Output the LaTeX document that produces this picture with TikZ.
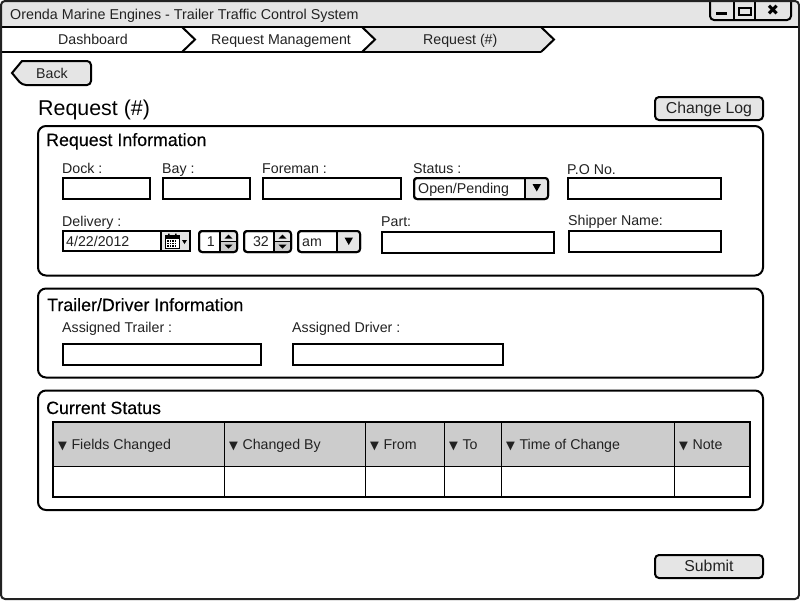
\documentclass[tikz,border=0pt]{standalone}
\usepackage{fontspec}
\setmainfont{Liberation Sans}
\usepackage{xcolor}
\usetikzlibrary{positioning}
\definecolor{panegray}{HTML}{E5E5E5}
\definecolor{headgray}{HTML}{CCCCCC}
\definecolor{inkgray}{HTML}{222222}
\newfontfamily\headfont[FakeBold=0.25]{Liberation Sans}
\newcommand{\tritip}{{\fontspec{DejaVu Sans}\fontsize{11.5}{12}\selectfont ▼}}

\begin{document}
\begin{tikzpicture}[
    x=1pt, y=-1pt,
    label/.style={anchor=base west, inner sep=0pt, text=inkgray, font=\fontsize{14.2}{16}\selectfont},
    heading/.style={anchor=base west, inner sep=0pt, text=black, font=\headfont\fontsize{17.8}{20}\selectfont},
    field/.style={draw=black, line width=2pt, fill=white, rectangle, anchor=north west, inner sep=0pt, outer sep=0pt, minimum height=21pt},
    combo/.style={field, rounded corners=3pt},
    panel/.style={draw=black, line width=2pt, rounded corners=8pt, anchor=north west, inner sep=0pt, outer sep=0pt, minimum width=725pt},
    button/.style={draw=black, line width=2pt, fill=panegray, rounded corners=4pt, anchor=north west, inner sep=0pt, outer sep=0pt, minimum width=108pt, minimum height=23pt, text height=12pt, text depth=2pt, text=inkgray, font=\fontsize{15.8}{18}\selectfont},
    cell/.style={draw=black, line width=1pt, anchor=north west, inner sep=0pt, outer sep=0pt},
    headcell/.style={cell, fill=headgray, minimum height=44pt},
    bodycell/.style={cell, fill=white, minimum height=31pt},
    trail/.style={draw=black, line width=2pt, line join=miter},
    tiptri/.style={fill=black, draw=none}
]
    \useasboundingbox (0,0) rectangle (800,600);
    \fill[white] (0,0) rectangle (800,600);

    % title bar
    \fill[panegray, rounded corners=4pt] (1,1) -- (799,1) -- (799,27) -- (1,27) -- cycle;
    \node[label, font=\fontsize{14.3}{16}\selectfont] (title) at (10,19) {Orenda Marine Engines - Trailer Traffic Control System};

    % window buttons
    \draw[line width=2pt, fill=panegray, rounded corners=4pt] (710,0) -- (710,20) -- (791,20) -- (791,0);
    \draw[line width=1.5pt] (734,0) -- (734,20) (755,0) -- (755,20);
    \fill (716,12) rectangle (727,15);
    \draw[line width=1.5pt] (739,8) rectangle (751,15);
    \node[anchor=center, inner sep=0pt, font=\bfseries\fontsize{15}{16}\selectfont] (closemark) at (773,10.5) {\fontspec{DejaVu Sans}✖};

    % breadcrumb
    \fill[panegray] (362,27) -- (541,27) -- (554,39.5) -- (541,52) -- (375,52) -- (362,52) -- (375,39.5) -- cycle;
    \draw[trail] (182,27) -- (195,39.5) -- (182,52);
    \draw[trail] (362,27) -- (375,39.5) -- (362,52);
    \draw[trail] (541,27) -- (554,39.5) -- (541,52);
    \draw[line width=2pt] (1,27) -- (799,27);
    \draw[line width=2pt] (1,52) -- (541,52);
    \node[label] (dash) at (58,44) {Dashboard};
    \node[label] (reqmgmt) at (211,44) {Request Management};
    \node[label] (reqtab) at (423,44) {Request (\#)};

    % back button
    \draw[line width=2pt, fill=panegray, rounded corners=4pt] (22,61) -- (91,61) -- (91,85) -- (22,85) [sharp corners] -- (12,73) -- cycle;
    \node[label] (back) at (36,78) {Back};

    % page heading
    \node[heading, font=\fontsize{21.4}{24}\selectfont] (page) at (38,115) {Request (\#)};
    \node[button] (changelog) at (655,97) {Change Log};

    % request information
    \node[panel, minimum height=149.5pt] (reqpanel) at (38,126) {};
    \node[heading] (reqhead) at (46,146) {Request Information};

    \node[label] (docklab) at (62,173) {Dock :};
    \node[field, minimum width=87pt] (dock) at (63,178) {};
    \node[label] (baylab) at (162,173) {Bay :};
    \node[field, minimum width=87pt] (bay) at (163,178) {};
    \node[label] (foremanlab) at (262,173) {Foreman :};
    \node[field, minimum width=138pt] (foreman) at (263,178) {};
    \node[label] (statuslab) at (413,173) {Status :};
    \node[combo, minimum width=134pt] (status) at (414,178) {};
    \fill[panegray, rounded corners=3pt] (525,178) rectangle (548,199);
    \draw[line width=2pt, rounded corners=3pt] (414,178) rectangle (548,199);
    \draw[line width=2pt] (525,178) -- (525,199);
    \node[label, anchor=base west] (statusval) at (418,193) {Open/Pending};
    \fill[tiptri] (532.5,184) -- (541,184) -- (536.75,191.5) -- cycle;
    \node[label] (polab) at (567,174) {P.O No.};
    \node[field, minimum width=153pt] (pono) at (568,178) {};

    \node[label] (deliverylab) at (62,226) {Delivery :};
    \node[field, minimum width=127pt, minimum height=20pt] (date) at (63,231) {};
    \fill[panegray] (161,231) rectangle (190,251);
    \draw[line width=2pt] (63,231) rectangle (190,251);
    \draw[line width=2pt] (161,231) -- (161,251);
    \node[label] (dateval) at (66,246) {4/22/2012};
    \draw[line width=.8pt, fill=white] (165,235) rectangle (179,248);
    \fill (165,235) rectangle (179,238.5);
    \fill (168,233.5) rectangle (169.5,236) (175,233.5) rectangle (176.5,236);
    \foreach \rowy in {240,242.5,245}
        \foreach \colx in {167,169.5,172,174.5}
            \fill (\colx,\rowy) rectangle +(1.5,1.5);
    \fill[tiptri] (182,240) -- (187,240) -- (184.5,244) -- cycle;

    % spinners
    \foreach \boxname/\xa/\xb/\xc/\val in {hour/199/220/237/1, minute/244/274/291/32}{
        \node[combo, minimum width=\xc pt-\xa pt] (\boxname) at (\xa,231) {};
        \fill[panegray] (\xb,231) rectangle (\xc,241.5);
        \fill[headgray] (\xb,241.5) rectangle (\xc,252);
        \draw[line width=2pt, rounded corners=3pt] (\xa,231) rectangle (\xc,252);
        \draw[line width=2pt] (\xb,231) -- (\xb,252);
        \draw[line width=1pt] (\xb,241.5) -- (\xc,241.5);
        \fill[tiptri] ({\xb+4.5},238.5) -- ({\xb+12.5},238.5) -- ({\xb+8.5},234.5) -- cycle;
        \fill[tiptri] ({\xb+4.5},244.5) -- ({\xb+12.5},244.5) -- ({\xb+8.5},248.5) -- cycle;
        \node[label, anchor=base east] (\boxname val) at ({\xb-5},246) {\val};
    }

    \node[combo, minimum width=62pt] (ampm) at (298,231) {};
    \fill[panegray, rounded corners=3pt] (337,231) rectangle (360,252);
    \draw[line width=2pt, rounded corners=3pt] (298,231) rectangle (360,252);
    \draw[line width=2pt] (337,231) -- (337,252);
    \node[label] (ampmval) at (302,246) {am};
    \fill[tiptri] (344.5,237.5) -- (353,237.5) -- (348.75,245) -- cycle;

    \node[label] (partlab) at (381,226) {Part:};
    \node[field, minimum width=172pt] (part) at (382,232) {};
    \node[label] (shipperlab) at (568,225) {Shipper Name:};
    \node[field, minimum width=152pt] (shipper) at (569,231) {};

    % trailer and driver
    \node[panel, minimum height=89pt] (trailerpanel) at (38,288.5) {};
    \node[heading] (trailerhead) at (47,311) {Trailer/Driver Information};
    \node[label] (trailerlab) at (62,332) {Assigned Trailer :};
    \node[field, minimum width=198pt] (trailer) at (63,344) {};
    \node[label] (driverlab) at (292,332) {Assigned Driver :};
    \node[field, minimum width=210pt] (driver) at (293,344) {};

    % current status
    \node[panel, minimum height=119.5pt] (statuspanel) at (38,390.5) {};
    \node[heading] (statushead) at (46,414) {Current Status};

    \foreach \cellname/\xa/\colw/\txt in {fields/53/171/Fields Changed, changedby/224/141/Changed By, from/365/79/From, to/444/57/To, time/501/173/Time of Change, note/674/76/Note}{
        \node[headcell, minimum width=\colw pt] (\cellname) at (\xa,422) {};
        \node[bodycell, minimum width=\colw pt] (\cellname body) at (\xa,466) {};
        \node[label, anchor=base west] (\cellname lab) at ({\xa+5},449) {\tritip\hspace{4.5pt}\txt};
    }
    \draw[line width=2pt] (53,422) rectangle (750,497);

    % submit
    \node[button] (submit) at (655,555) {Submit};

    % window frame
    \draw[draw=inkgray, line width=2pt, rounded corners=4pt] (1,1) rectangle (799,599);
\end{tikzpicture}
\end{document}
